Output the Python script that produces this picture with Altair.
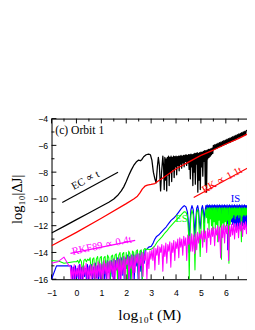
import altair as alt
import pandas as pd

# ---------------- data ----------------
# EC (black)
ec_x = [-1, -0.5, 0, 0.5, 1, 1.3, 1.5, 1.65, 1.8, 1.9, 2.0, 2.1, 2.2, 2.3, 2.4, 2.5, 2.57, 2.63, 2.7, 2.8,
        2.9, 2.97, 3.03, 3.09, 3.15, 3.2, 3.25, 3.29, 3.33, 3.38, 3.42, 3.47]
ec_y = [-12.55, -12.05, -11.55, -11.05, -10.55, -10.25, -10.0, -9.75, -9.4, -9.1, -8.7, -8.25, -7.85, -7.5,
        -7.25, -7.1, -7.15, -7.05, -6.85, -6.7, -6.65, -6.7, -7.1, -8.0, -8.5, -8.8, -7.6, -6.9, -7.5, -9.4,
        -8.0, -6.8]
ec_dense1_start, ec_dense1_step = 3.5, 0.025
ec_dense1_y = [
    -7.6, -9.3, -6.9, -8.6, -7.0, -9.4, -6.9, -8.2, -6.8, -9.0,
    -6.9, -8.0, -6.8, -8.7, -6.9, -7.8, -6.8, -8.4, -6.85, -7.6,
    -6.8, -8.2, -6.85, -7.5, -6.8, -7.9, -6.8, -7.4, -6.75, -7.7,
    -6.8, -7.3, -6.75, -7.6, -6.75, -7.2, -6.7, -7.5, -6.75, -7.3,
    -6.7, -7.8, -6.7, -8.5, -6.65, -7.6, -6.7, -9.0, -6.65, -8.0,
    -6.6, -8.9, -6.6, -7.4, -6.55, -9.5, -6.6, -8.6, -6.55, -9.3,
    -6.5, -7.6, -6.5, -8.3, -6.45, -7.2, -6.4, -9.0, -6.4, -9.5,
    -6.35, -7.0, -6.3, -6.9, -6.3, -6.8, -6.25, -6.7, -6.2, -6.6]
ec_dense2_start, ec_dense2_step = 5.5, 0.03
ec_dense2_y = [
    -6.0, -6.3, -5.95, -6.25, -5.9, -6.2, -5.85, -6.15, -5.8, -6.1,
    -5.75, -6.05, -5.7, -6.0, -5.65, -5.95, -5.6, -5.9, -5.55, -5.85,
    -5.5, -5.8, -5.45, -5.75, -5.4, -5.7, -5.35, -5.65, -5.3, -5.6,
    -5.25, -5.5, -5.2, -5.45, -5.15, -5.4, -5.1, -5.35, -5.05, -5.3,
    -5.0, -5.25, -4.95, -5.2, -4.9]
ec_tail_x = [6.9]
ec_tail_y = [-4.85]

# RK (red)
rk_x = [-1, 0, 1, 2, 2.3, 2.45, 2.55, 2.65, 2.75, 2.85, 3.0, 3.15, 3.3, 3.5, 4, 4.5, 5, 5.5, 6, 6.5, 6.9]
rk_y = [-13.5, -12.5, -11.45, -10.35, -10.0, -9.8, -9.55, -9.25, -9.05, -8.97, -8.92, -8.85, -8.65, -8.4,
        -7.75, -7.25, -6.75, -6.35, -5.9, -5.5, -5.12]

# IS (blue)
is_x0 = [-1.0, -0.8, -0.5, -0.25]
is_y0 = [-16.0, -15.0, -15.0, -15.0]
is_noise_start, is_noise_step = -0.2, 0.04
is_noise_y = [
    -15.0, -16.0, -15.1, -16.0, -15.0, -15.9, -15.2, -16.0, -14.9, -16.0,
    -15.1, -16.0, -15.0, -15.8, -15.2, -16.0, -14.9, -16.0, -15.0, -15.7,
    -14.9, -16.0, -15.1, -16.0, -14.8, -15.9, -15.0, -16.0, -14.8, -16.0,
    -14.9, -15.6, -14.7, -16.0, -14.8, -16.0, -14.6, -15.5, -14.7, -16.0,
    -14.6, -15.8, -14.5, -16.0, -14.6, -15.3, -14.4, -16.0, -14.5, -16.0,
    -14.4, -15.7, -14.3, -16.0, -14.4, -15.2, -14.2, -16.0, -14.3, -16.0,
    -14.2, -15.5, -14.1, -16.0, -14.2, -15.0, -14.0, -16.0, -14.1, -15.4,
    -13.9, -16.0, -14.0, -14.8, -13.8]
is_x1 = [2.8, 2.9, 3.0, 3.08, 3.15, 3.22, 3.3, 3.4, 3.5, 3.6, 3.7, 3.8, 3.9, 4.0, 4.1, 4.2, 4.27, 4.33,
         4.4, 4.46, 4.5, 4.53, 4.56, 4.6, 4.64, 4.69, 4.73, 4.76, 4.79, 4.83, 4.87, 4.91, 4.94, 4.97, 5.0,
         5.03, 5.06, 5.1, 5.13, 5.16, 5.2, 5.23]
is_y1 = [-13.8, -13.6, -13.55, -13.3, -13.0, -12.8, -12.7, -12.5, -12.3, -12.1, -11.85, -11.6, -11.45,
         -11.25, -11.0, -10.75, -10.6, -10.5, -10.6, -11.0, -11.8, -14.0, -11.8, -10.8, -10.5, -10.8, -11.8,
         -12.8, -11.6, -10.7, -10.5, -10.9, -11.8, -12.2, -11.5, -10.7, -10.5, -10.9, -11.8, -11.0, -10.5,
         -10.8]
is_dense_start, is_dense_step = 5.25, 0.025
is_dense_y = [
    -10.45, -11.0, -10.5, -11.2, -10.45, -10.9, -10.5, -11.3, -10.45, -11.0,
    -10.5, -11.1, -10.45, -10.9, -10.5, -11.4, -10.45, -11.0, -10.5, -11.2,
    -10.45, -10.9, -10.5, -11.3, -10.45, -11.0, -10.5, -11.5, -10.45, -11.1,
    -10.5, -11.6, -10.45, -13.8, -10.5, -11.4, -10.45, -11.2, -10.5, -11.7,
    -10.45, -11.9, -10.5, -12.1, -10.45, -11.8, -10.5, -12.3, -10.45, -12.0,
    -10.5, -12.2, -10.45, -11.9, -10.5, -12.3, -10.45, -12.0, -10.5, -12.2,
    -10.45, -11.9, -10.5, -12.1, -10.45]

# ES (green)
es_x0 = [-1.0, -0.7, -0.5, -0.3, -0.1]
es_y0 = [-14.6, -14.65, -14.8, -14.75, -14.7]
es_noise_start, es_noise_step = 0.0, 0.05
es_noise_y = [
    -14.7, -14.6, -14.8, -14.5, -14.7, -15.5, -14.6, -14.5, -14.7, -14.5,
    -14.6, -14.4, -15.8, -14.5, -14.4, -16.0, -14.5, -14.3, -15.2, -14.4,
    -14.3, -16.0, -14.4, -14.3, -15.5, -14.2, -14.4, -16.0, -14.3, -14.2,
    -15.0, -14.2, -14.1, -16.0, -14.2, -14.0, -15.4, -14.1, -14.0, -16.0,
    -14.0, -16.0, -13.9, -14.1, -16.0, -13.9, -14.0, -15.0, -13.9, -13.8,
    -16.0, -13.9, -13.8, -16.0, -13.8, -13.7, -13.8]
es_x1 = [2.85, 2.95, 3.05, 3.15, 3.25, 3.35, 3.45, 3.55, 3.65, 3.75, 3.85, 3.95, 4.05, 4.15, 4.25, 4.33,
         4.4, 4.46, 4.5, 4.53, 4.56, 4.6, 4.64, 4.69, 4.73, 4.76, 4.79, 4.83, 4.87, 4.91, 4.94, 4.97, 5.0,
         5.03, 5.06, 5.1, 5.13, 5.16, 5.2, 5.23]
es_y1 = [-13.75, -13.8, -13.7, -13.5, -13.2, -13.0, -12.8, -12.55, -12.35, -12.1, -11.9, -11.7, -11.5,
         -11.3, -11.1, -10.95, -11.0, -11.3, -12.5, -16.0, -12.5, -11.2, -10.85, -11.2, -13.0, -15.3, -12.8,
         -11.0, -10.8, -11.3, -12.8, -14.3, -12.4, -11.0, -10.8, -11.4, -13.2, -11.5, -10.8, -11.4]
es_dense_start, es_dense_step = 5.25, 0.025
es_dense_y = [
    -10.65, -11.8, -10.7, -12.3, -10.65, -11.5, -10.7, -12.0, -10.65, -12.4,
    -10.7, -11.7, -10.65, -12.2, -10.7, -11.9, -10.65, -13.2, -10.7, -11.6,
    -10.65, -12.1, -10.7, -14.5, -10.65, -11.8, -10.7, -12.3, -10.65, -11.7,
    -10.7, -12.0, -10.65, -11.6, -10.7, -14.8, -10.65, -11.9, -10.7, -11.5,
    -10.65, -11.4, -10.7, -11.2, -10.65, -11.5, -10.7, -11.3, -10.65, -11.2,
    -10.7, -11.4, -10.65, -11.2, -10.7, -13.2, -10.65, -11.3, -10.7, -11.2,
    -10.65, -11.3, -10.7, -11.2, -10.65]

# RKF89 (magenta)
rkf_x0 = [-1.0, -0.75, -0.5, -0.3]
rkf_y0 = [-14.8, -14.7, -14.35, -15.0]
rkf_noise1_start, rkf_noise1_step = -0.25, 0.04
rkf_noise1_y = [
    -15.0, -16.0, -15.1, -16.0, -14.9, -16.0, -15.2, -15.8, -15.0, -16.0,
    -14.9, -16.0, -15.1, -16.0, -15.0, -15.7, -14.8, -16.0, -15.1, -16.0,
    -14.9, -16.0, -15.0, -15.9, -14.8, -16.0, -15.0, -16.0, -14.7, -15.8,
    -14.8, -16.0, -14.9, -16.0, -14.6, -15.6, -14.8, -16.0, -14.7, -16.0,
    -14.6, -15.5, -14.7, -16.0, -14.5, -16.0, -14.6, -15.3, -14.5, -16.0,
    -14.4, -16.0, -14.6, -15.6, -14.3, -16.0, -14.5, -14.9, -14.3, -16.0,
    -14.4, -15.2, -14.2, -16.0, -14.3, -15.5, -14.2, -14.8, -14.1, -16.0,
    -14.2, -15.0, -14.0, -15.8, -14.1, -14.6, -13.9, -16.0, -14.0, -15.2,
    -13.9, -14.5]
rkf_noise2_start, rkf_noise2_step = 3.03, 0.04
rkf_noise2_y = [
    -13.8, -14.6, -13.6, -15.3, -13.7, -14.2, -13.5, -14.9, -13.6, -14.0,
    -13.4, -15.4, -13.5, -14.3, -13.3, -14.8, -13.4, -13.9, -13.2, -15.1,
    -13.3, -14.0, -13.1, -14.6, -13.2, -13.7, -13.0, -14.4, -12.9, -13.6,
    -13.0, -14.2, -12.8, -13.5, -12.9, -14.6, -12.7, -13.4, -12.8, -13.9,
    -12.6, -13.9, -12.7, -14.1, -12.6, -13.8, -12.5, -13.3, -12.6, -13.0,
    -12.4, -13.6, -12.3, -13.0, -12.4, -14.0, -12.2, -12.9, -12.3, -13.4,
    -12.2, -12.8, -12.1, -13.5, -12.2, -12.7, -12.0, -13.2, -12.1, -14.4,
    -12.0, -12.9, -11.9, -13.3, -12.0, -12.6, -11.9, -14.6, -12.0, -12.8,
    -11.9, -12.7, -11.8, -13.0, -11.9, -12.5, -11.8, -12.9, -11.8, -12.4,
    -11.7, -12.8, -11.8, -12.3, -11.7, -12.6, -11.7]

# guide lines and labels
ec_guide_x, ec_guide_y = [-0.57, 1.67], [-10.27, -8.0]
rk_guide_x, rk_guide_y = [4.71, 7.0], [-9.9, -7.57]
rkf_guide_x, rkf_guide_y = [-0.24, 2.36], [-14.07, -13.1]

x_ticks = [-1, 0, 1, 2, 3, 4, 5, 6]
x_minor = [-0.5, 0.5, 1.5, 2.5, 3.5, 4.5, 5.5, 6.5]
y_ticks = [-4, -6, -8, -10, -12, -14, -16]
y_minor = [-5, -7, -9, -11, -13, -15]


def seg(start, step, ys):
    return [round(start + i * step, 4) for i in range(len(ys))], list(ys)


def frame(parts):
    xs, ysv = [], []
    for px, py in parts:
        xs += list(px)
        ysv += list(py)
    return pd.DataFrame({"x": xs, "y": ysv})


ec_df = frame([(ec_x, ec_y), seg(ec_dense1_start, ec_dense1_step, ec_dense1_y),
               seg(ec_dense2_start, ec_dense2_step, ec_dense2_y), (ec_tail_x, ec_tail_y)])
rk_df = frame([(rk_x, rk_y)])
is_df = frame([(is_x0, is_y0), seg(is_noise_start, is_noise_step, is_noise_y), (is_x1, is_y1),
               seg(is_dense_start, is_dense_step, is_dense_y)])
es_df = frame([(es_x0, es_y0), seg(es_noise_start, es_noise_step, es_noise_y), (es_x1, es_y1),
               seg(es_dense_start, es_dense_step, es_dense_y)])
rkf_df = frame([(rkf_x0, rkf_y0), seg(rkf_noise1_start, rkf_noise1_step, rkf_noise1_y),
                seg(rkf_noise2_start, rkf_noise2_step, rkf_noise2_y)])

# ---------------- chart ----------------
W, H = 202, 166
xsc = alt.Scale(domain=[-1, 6.85], nice=False, zero=False)
ysc = alt.Scale(domain=[-16, -4], nice=False, zero=False)
SERIF = "Liberation Serif"
SANS = "Liberation Sans"
MAJ, MIN = 5, 3


def series(df, color, width=1.1):
    return alt.Chart(df).mark_line(color=color, strokeWidth=width, clip=True, strokeJoin="round").encode(
        x=alt.X("x:Q", scale=xsc, axis=None), y=alt.Y("y:Q", scale=ysc, axis=None))


def guide(gx, gy, color):
    return series(pd.DataFrame({"x": gx, "y": gy}), color, 1.2)


def label(tx, ty, text, color, angle=0, size=11, align="center"):
    return alt.Chart(pd.DataFrame({"x": [tx], "y": [ty], "t": [text]})).mark_text(
        font=SERIF, fontSize=size, color=color, angle=angle, align=align, baseline="middle", clip=True
    ).encode(x=alt.X("x:Q", scale=xsc, axis=None), y=alt.Y("y:Q", scale=ysc, axis=None), text="t:N")


def xticks(vals, y0, y1):
    return alt.Chart(pd.DataFrame({"x": vals})).mark_rule(color="black", strokeWidth=1).encode(
        x=alt.X("x:Q", scale=xsc, axis=None), y=alt.value(y0), y2=alt.value(y1))


def yticks(vals, x0, x1):
    return alt.Chart(pd.DataFrame({"y": vals})).mark_rule(color="black", strokeWidth=1).encode(
        y=alt.Y("y:Q", scale=ysc, axis=None), x=alt.value(x0), x2=alt.value(x1))


main_axes = alt.Chart(rk_df).mark_line(opacity=0).encode(
    x=alt.X("x:Q", scale=xsc, axis=alt.Axis(
        orient="bottom", values=x_ticks, format="d", domain=True, domainColor="black", domainWidth=1,
        ticks=False, tickSize=0, labelFont=SANS, labelFontSize=9, labelColor="black", labelPadding=10,
        labelFlush=False, labelOverlap=False, grid=False,
        title="log₁₀t (M)", titleFont=SERIF, titleFontSize=16, titleFontWeight="normal",
        titleColor="black", titlePadding=10)),
    y=alt.Y("y:Q", scale=ysc, axis=alt.Axis(
        orient="left", values=y_ticks, format="d", domain=True, domainColor="black", domainWidth=1,
        ticks=False, tickSize=0, labelFont=SANS, labelFontSize=9, labelColor="black", labelPadding=4,
        labelFlush=False, labelOverlap=False, grid=False,
        title="log₁₀|ΔJ|", titleFont=SERIF, titleFontSize=15, titleFontWeight="normal",
        titleColor="black", titlePadding=9)),
)
top_axis = alt.Chart(rk_df).mark_line(opacity=0).encode(
    x=alt.X("x:Q", scale=xsc, axis=alt.Axis(orient="top", domain=True, domainColor="black", domainWidth=1,
                                            ticks=False, labels=False, grid=False, title=None)),
    y=alt.Y("y:Q", scale=ysc, axis=None))

chart = alt.layer(
    main_axes, top_axis,
    xticks(x_ticks, H - MAJ, H), xticks(x_minor, H - MIN, H),
    xticks(x_ticks, 0, MAJ), xticks(x_minor, 0, MIN),
    yticks(y_ticks, 0, MAJ), yticks(y_minor, 0, MIN),
    series(ec_df, "black", 1.3),
    series(rk_df, "#ff0000", 1.3),
    series(is_df, "#0000ff", 1.2),
    series(es_df, "#00ff00", 1.1),
    series(rkf_df, "#ff00ff", 1.1),
    guide(ec_guide_x, ec_guide_y, "black"),
    guide(rk_guide_x, rk_guide_y, "#ff0000"),
    guide(rkf_guide_x, rkf_guide_y, "#ff00ff"),
    label(-0.85, -4.84, "(c) Orbit 1", "black", 0, 12, "left"),
    label(0.37, -8.62, "EC ∝ t", "black", 332, 11),
    label(5.85, -8.6, "RK ∝ 1.1t", "#ff0000", 331, 11),
    label(1.02, -13.5, "RKF89 ∝ 0.4t", "#ff00ff", 348, 11),
    label(4.22, -11.5, "ES", "#00ff00", 0, 11),
    label(6.39, -10.05, "IS", "#0000ff", 0, 11),
).resolve_axis(x="independent", y="independent").properties(
    width=W, height=H,
    autosize=alt.AutoSizeParams(type="none"),
    padding={"left": 45, "top": 109, "right": 0, "bottom": 42},
).configure_view(stroke=None).configure(background="white")

chart.save("out.html", embed_options={"renderer": "svg", "actions": False})
